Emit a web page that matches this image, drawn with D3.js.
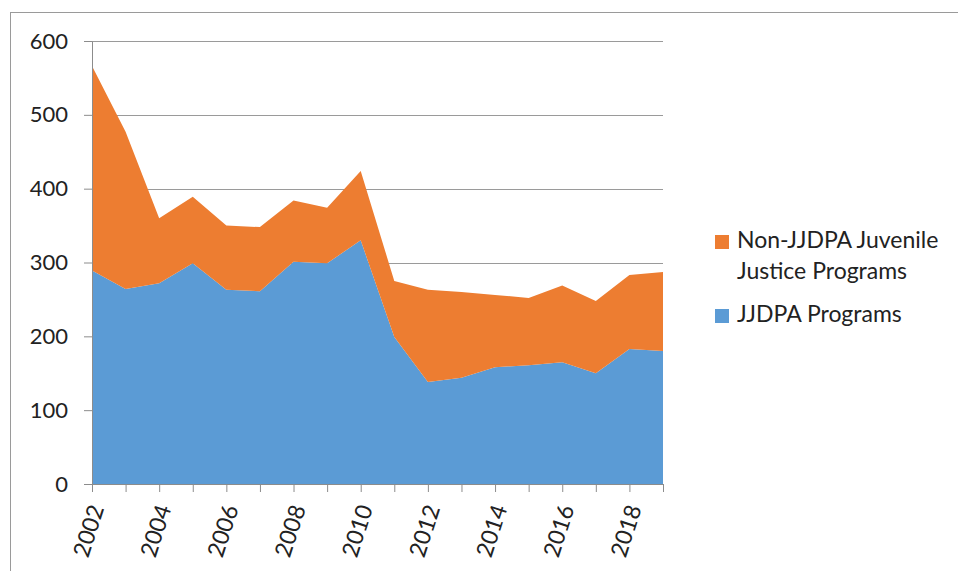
<!DOCTYPE html>
<html>
<head>
<meta charset="utf-8">
<script src="https://cdn.jsdelivr.net/npm/d3@7"></script>
<style>
  body { margin: 0; background: #fff; }
  svg { display: block; font-family: Lato, "Open Sans", sans-serif; }
</style>
</head>
<body>
<div></div>
<script>
const years = [2002, 2003, 2004, 2005, 2006, 2007, 2008, 2009, 2010, 2011, 2012, 2013, 2014, 2015, 2016, 2017, 2018, 2019];
const jjdpa = [289, 264, 272, 299, 263, 261, 301, 299, 330, 199, 138, 144, 158, 161, 165, 150, 183, 180];
const nonJjdpa = [277, 213, 88, 90, 87, 87, 83, 75, 94, 76, 125, 116, 98, 91, 104, 98, 100, 107];
const yTicks = [0, 100, 200, 300, 400, 500, 600];
const seriesNames = ["JJDPA Programs", "Non-JJDPA Juvenile Justice Programs"];
const colors = ["#5B9BD5", "#ED7D31"];

const width = 958, height = 571;
const x = d3.scaleLinear().domain([2002, 2019]).range([92, 663]);
const y = d3.scaleLinear().domain([0, 600]).range([484, 41]);

const rows = years.map((yr, i) => ({ year: yr, jjdpa: jjdpa[i], non: nonJjdpa[i] }));
const stacked = d3.stack().keys(["jjdpa", "non"])(rows);

const svg = d3.select("div").append("svg").attr("width", width).attr("height", height);
svg.append("rect").attr("width", width).attr("height", height).attr("fill", "#fff");

// outer chart frame (runs off the right and bottom edges)
svg.append("rect").attr("x", 10.5).attr("y", 12.5).attr("width", 980).attr("height", 600)
  .attr("fill", "none").attr("stroke", "#9a9a9a");

// gridlines
svg.append("g").selectAll("line").data(yTicks.filter(d => d > 0)).join("line")
  .attr("x1", 92).attr("x2", 663)
  .attr("y1", d => Math.round(y(d)) + 0.5).attr("y2", d => Math.round(y(d)) + 0.5)
  .attr("stroke", "#9a9a9a");

// stacked areas
const area = d3.area()
  .x(d => x(d.data.year))
  .y0(d => y(d[0]))
  .y1(d => y(d[1]));
svg.append("g").selectAll("path").data(stacked).join("path")
  .attr("d", area)
  .attr("fill", (d, i) => colors[i]);

// y axis
const yAxis = svg.append("g").attr("transform", "translate(92,0)")
  .call(d3.axisLeft(y).tickValues(yTicks).tickSize(8).tickPadding(16).tickSizeOuter(0));
yAxis.select(".domain").attr("stroke", "#8c8c8c");
yAxis.selectAll(".tick line").attr("stroke", "#8c8c8c");
yAxis.selectAll(".tick text").attr("font-size", 22).attr("fill", "#222").attr("font-family", "Lato, sans-serif");

// x axis
const xAxis = svg.append("g").attr("transform", "translate(0,484)")
  .call(d3.axisBottom(x).tickValues(years).tickSize(8).tickSizeOuter(0)
    .tickFormat(d => d % 2 === 0 ? d : ""));
xAxis.select(".domain").attr("stroke", "#8c8c8c");
xAxis.selectAll(".tick line").attr("stroke", "#8c8c8c");
xAxis.selectAll(".tick text")
  .attr("font-size", 23).attr("fill", "#222").attr("font-family", "Lato, sans-serif")
  .attr("text-anchor", "end").attr("dy", null).attr("y", 0)
  .attr("transform", "translate(12,24) rotate(-72)");

// legend
const legend = svg.append("g");
const legendItems = [
  { name: seriesNames[1], color: colors[1], lines: ["Non-JJDPA Juvenile", "Justice Programs"], y: 235 },
  { name: seriesNames[0], color: colors[0], lines: ["JJDPA Programs"], y: 309 }
];
legendItems.forEach(it => {
  legend.append("rect").attr("x", 715).attr("y", it.y).attr("width", 14).attr("height", 14).attr("fill", it.color);
  it.lines.forEach((ln, j) => {
    legend.append("text").attr("x", 737).attr("y", it.y + 13 + j * 31)
      .attr("font-size", 23).attr("fill", "#222").text(ln);
  });
});
</script>
</body>
</html>
